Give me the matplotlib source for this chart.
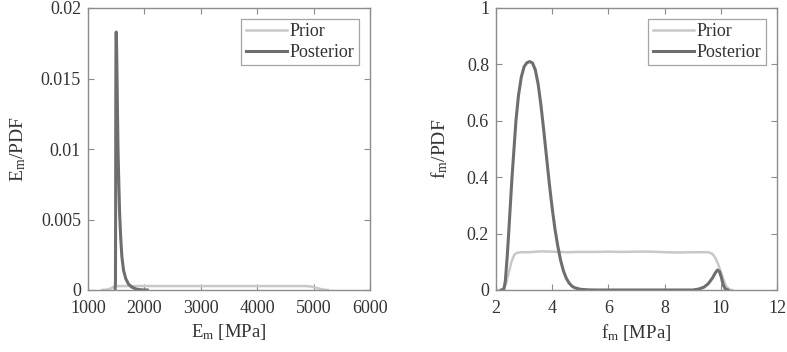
import matplotlib
matplotlib.use("Agg")
import matplotlib.pyplot as plt

plt.rcParams['font.family'] = ['Liberation Serif', 'DejaVu Serif']
plt.rcParams['mathtext.fontset'] = 'custom'
plt.rcParams['mathtext.rm'] = 'Liberation Serif'
plt.rcParams['mathtext.it'] = 'Liberation Serif:italic'

# ---- Left panel: E_m ----
em_prior_x = [1250, 1320, 1400, 1450, 1500, 1600, 2000, 2500, 3000, 3500, 4000, 4500, 4850, 4950, 5050, 5150, 5250]
em_prior_y = [0, 0.00002, 0.0001, 0.00022, 0.00027, 0.00028, 0.00028, 0.00028, 0.00028, 0.00028, 0.00028, 0.00028, 0.00028, 0.00025, 0.00015, 0.00004, 0]

em_post_x = [1480, 1487, 1490, 1493, 1497, 1502, 1508, 1515, 1522, 1532, 1545, 1560, 1580, 1600, 1630, 1670, 1720, 1780, 1860, 1950, 2050]
em_post_y = [0, 0.0005, 0.006, 0.014, 0.0182, 0.0183, 0.0170, 0.0150, 0.0128, 0.0100, 0.0078, 0.0055, 0.0037, 0.0024, 0.0014, 0.0008, 0.0004, 0.0002, 0.00006, 0.00001, 0]

# ---- Right panel: f_m ----
fm_prior_x = [2.1, 2.25, 2.35, 2.45, 2.55, 2.65, 2.75, 2.9, 3.2, 3.6, 4.0, 4.5, 5.0, 5.5, 6.0, 6.5, 7.0, 7.5, 8.0, 8.5, 9.0, 9.4, 9.6, 9.7, 9.8, 9.9, 10.0, 10.1, 10.2, 10.3, 10.4]
fm_prior_y = [0, 0.003, 0.02, 0.06, 0.10, 0.125, 0.132, 0.134, 0.134, 0.137, 0.136, 0.134, 0.135, 0.135, 0.136, 0.135, 0.136, 0.136, 0.134, 0.133, 0.134, 0.134, 0.133, 0.128, 0.115, 0.093, 0.065, 0.035, 0.012, 0.002, 0]

fm_post_x = [2.2, 2.28, 2.33, 2.40, 2.45, 2.51, 2.57, 2.64, 2.71, 2.80, 2.90, 3.00, 3.10, 3.20, 3.30, 3.40, 3.50, 3.60, 3.70, 3.80, 3.90, 4.00, 4.10, 4.20, 4.30, 4.40, 4.50, 4.60, 4.70, 4.80, 5.00, 5.30, 5.60, 9.00, 9.20, 9.40, 9.55, 9.70, 9.80, 9.88, 9.95, 10.02, 10.08, 10.15, 10.25]
fm_post_y = [0, 0.003, 0.03, 0.12, 0.20, 0.30, 0.40, 0.50, 0.60, 0.69, 0.755, 0.792, 0.806, 0.81, 0.805, 0.78, 0.73, 0.655, 0.565, 0.47, 0.375, 0.29, 0.215, 0.155, 0.105, 0.068, 0.042, 0.025, 0.014, 0.008, 0.0025, 0.0005, 0, 0, 0.003, 0.01, 0.022, 0.042, 0.06, 0.071, 0.066, 0.045, 0.02, 0.005, 0]

em_xticks = [1000, 2000, 3000, 4000, 5000, 6000]
em_yticks = [0, 0.005, 0.01, 0.015, 0.02]
em_yticklabels = ['0', '0.005', '0.01', '0.015', '0.02']
fm_xticks = [2, 4, 6, 8, 10, 12]
fm_yticks = [0, 0.2, 0.4, 0.6, 0.8, 1]
fm_yticklabels = ['0', '0.2', '0.4', '0.6', '0.8', '1']

PRIOR_C = '#c8c8c8'
POST_C = '#6e6e6e'
SPINE_C = '#8c8c8c'
TEXT_C = '#333333'

W, H = 787, 352
fig = plt.figure(figsize=(W / 100, H / 100), dpi=100)
axL = fig.add_axes([88 / W, 62 / H, 282 / W, 282 / H])
axR = fig.add_axes([496 / W, 62 / H, 281 / W, 282 / H])

def style(ax):
    for s in ax.spines.values():
        s.set_color(SPINE_C)
        s.set_linewidth(1.0)
    ax.tick_params(direction='in', top=True, right=True, length=4, width=0.8,
                   color=SPINE_C, labelcolor=TEXT_C, labelsize=13)
    ax.tick_params(axis='x', pad=7)
    ax.tick_params(axis='y', pad=5)

axL.plot(em_prior_x, em_prior_y, color=PRIOR_C, lw=1.8, label='Prior')
axL.plot(em_post_x, em_post_y, color=POST_C, lw=2.2, label='Posterior')
axL.set_xlim(1000, 6000)
axL.set_ylim(0, 0.02)
axL.set_xticks(em_xticks)
axL.set_yticks(em_yticks)
axL.set_yticklabels(em_yticklabels)
axL.set_xlabel(r'E$_\mathrm{m}$ [MPa]', fontsize=13.5, color=TEXT_C, labelpad=4)
axL.set_ylabel(r'E$_\mathrm{m}$/PDF', fontsize=14, color=TEXT_C, labelpad=9)
style(axL)

axR.plot(fm_prior_x, fm_prior_y, color=PRIOR_C, lw=1.8, label='Prior')
axR.plot(fm_post_x, fm_post_y, color=POST_C, lw=2.2, label='Posterior')
axR.set_xlim(2, 12)
axR.set_ylim(0, 1)
axR.set_xticks(fm_xticks)
axR.set_yticks(fm_yticks)
axR.set_yticklabels(fm_yticklabels)
axR.set_xlabel(r'f$_\mathrm{m}$ [MPa]', fontsize=13.5, color=TEXT_C, labelpad=4)
axR.set_ylabel(r'f$_\mathrm{m}$/PDF', fontsize=14, color=TEXT_C, labelpad=12)
style(axR)

for ax in (axL, axR):
    leg = ax.legend(loc='upper right', fontsize=13, frameon=True, fancybox=False,
                    handlelength=2.3, handletextpad=0.15, borderpad=0.25,
                    labelspacing=0.2, borderaxespad=0.6)
    leg.get_frame().set_edgecolor(SPINE_C)
    leg.get_frame().set_linewidth(0.9)
    for t in leg.get_texts():
        t.set_color(TEXT_C)

fig.savefig('out.png', dpi=100)
